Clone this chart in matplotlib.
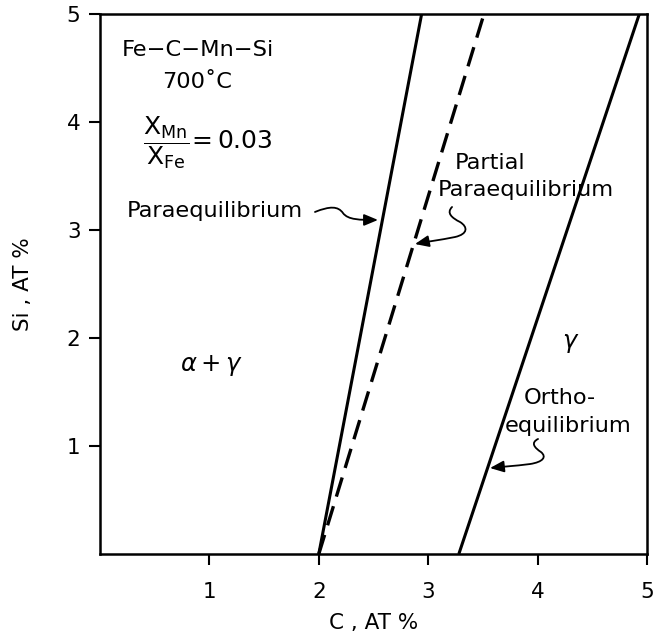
import numpy as np
import matplotlib.pyplot as plt
from matplotlib.path import Path
from matplotlib.patches import FancyArrowPatch

plt.rcParams['font.family'] = ['DejaVu Sans']
plt.rcParams['mathtext.fontset'] = 'dejavusans'

# phase boundaries (C at%, Si at%)
si_ends = [0, 5]
para_c = [2.0, 2.94]
partial_c = [2.0, 3.51]
ortho_c = [3.28, 4.93]

ticks = [1, 2, 3, 4, 5]
tick_labels = ['1', '2', '3', '4', '5']

fs = 15.5
tfs = 16.2

fig = plt.figure(figsize=(6.59, 6.43), dpi=100)
ax = fig.add_axes([100/659, 1 - 554/643, 547/659, 540/643])

ax.plot(para_c, si_ends, color='black', lw=2.2, solid_capstyle='butt')
ax.plot(partial_c, si_ends, color='black', lw=2.4, dashes=(6, 3))
ax.plot(ortho_c, si_ends, color='black', lw=2.2, solid_capstyle='butt')

ax.set_xlim(0, 5)
ax.set_ylim(0, 5)
ax.set_xticks(ticks)
ax.set_xticklabels(tick_labels)
ax.set_yticks(ticks)
ax.set_yticklabels(tick_labels)
ax.tick_params(axis='both', direction='out', length=8, width=1.5, labelsize=fs)
ax.tick_params(axis='x', pad=12)
ax.tick_params(axis='y', pad=6)
for s in ax.spines.values():
    s.set_linewidth(1.8)

ax.set_xlabel('C , AT %', fontsize=fs, labelpad=8)
ax.set_ylabel('Si , AT %', fontsize=fs, labelpad=24)

# labels
ax.text(0.20, 4.67, 'Fe−C−Mn−Si', fontsize=tfs, ha='left', va='center')
ax.text(0.89, 4.37, '700˚C', fontsize=tfs, ha='center', va='center')
ax.text(0.99, 3.81, r'$\dfrac{\mathrm{X_{Mn}}}{\mathrm{X_{Fe}}}\!=0.03$', fontsize=18,
        ha='center', va='center')
ax.text(0.247, 3.18, 'Paraequilibrium', fontsize=tfs, ha='left', va='center')
ax.text(3.245, 3.62, 'Partial', fontsize=tfs, ha='left', va='center')
ax.text(3.09, 3.37, 'Paraequilibrium', fontsize=tfs, ha='left', va='center')
ax.text(3.87, 1.44, 'Ortho-', fontsize=tfs, ha='left', va='center')
ax.text(3.70, 1.185, 'equilibrium', fontsize=tfs, ha='left', va='center')
ax.text(1.02, 1.75, r'$\alpha+\gamma$', fontsize=fs + 2, ha='center', va='center')
ax.text(4.3, 1.95, r'$\gamma$', fontsize=fs + 2, ha='center', va='center')

# curly leader arrows
C4 = Path.CURVE4
arrows = [
    [(1.965, 3.167), (2.102, 3.222), (2.176, 3.222), (2.221, 3.157),
     (2.267, 3.093), (2.377, 3.093), (2.541, 3.093)],
    [(3.218, 3.213), (3.163, 3.157), (3.218, 3.111), (3.291, 3.074),
     (3.364, 3.028), (3.364, 2.963), (3.245, 2.935),
     (3.108, 2.907), (2.971, 2.889), (2.879, 2.870)],
    [(4.004, 1.065), (3.931, 1.028), (3.976, 0.981), (4.031, 0.944),
     (4.086, 0.898), (4.049, 0.852), (3.931, 0.833),
     (3.793, 0.815), (3.656, 0.806), (3.565, 0.796)],
]
for verts in arrows:
    codes = [Path.MOVETO] + [C4] * (len(verts) - 1)
    p = FancyArrowPatch(path=Path(verts, codes), arrowstyle='-|>,head_length=0.6,head_width=0.25',
                        mutation_scale=14, lw=1.3, color='black', transform=ax.transData)
    ax.add_patch(p)

fig.savefig('out.png', dpi=100)
